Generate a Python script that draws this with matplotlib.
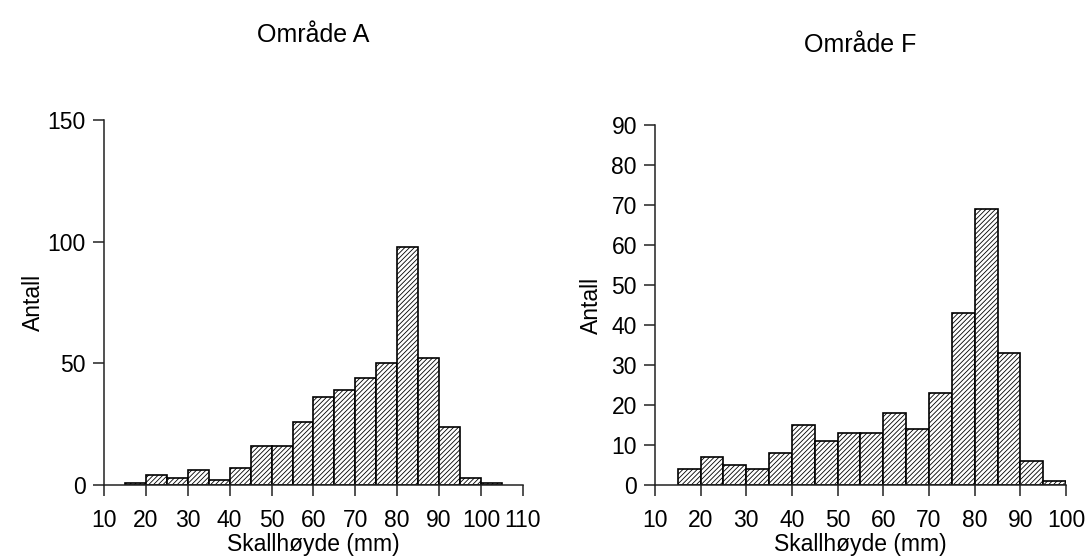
import matplotlib.pyplot as plt
import numpy as np

plt.rcParams["font.family"] = ["Liberation Sans", "DejaVu Sans"]
plt.rcParams["hatch.linewidth"] = 0.6

# bin edges start at 15 mm, width 5 mm
bins_a = [15, 20, 25, 30, 35, 40, 45, 50, 55, 60, 65, 70, 75, 80, 85, 90, 95, 100]
counts_a = [1, 4, 3, 6, 2, 7, 16, 16, 26, 36, 39, 44, 50, 98, 52, 24, 3, 1]

bins_f = [15, 20, 25, 30, 35, 40, 45, 50, 55, 60, 65, 70, 75, 80, 85, 90, 95]
counts_f = [4, 7, 5, 4, 8, 15, 11, 13, 13, 18, 14, 23, 43, 69, 33, 6, 1]

xticks_a = [10, 20, 30, 40, 50, 60, 70, 80, 90, 100, 110]
yticks_a = [0, 50, 100, 150]
xticks_f = [10, 20, 30, 40, 50, 60, 70, 80, 90, 100]
yticks_f = [0, 10, 20, 30, 40, 50, 60, 70, 80, 90]

fig = plt.figure(figsize=(10.88, 5.6), dpi=100)
ax1 = fig.add_axes([0.0956, 0.1339, 0.385, 0.6518])
ax2 = fig.add_axes([0.602, 0.1339, 0.3778, 0.643])


def draw(ax, bins, counts, xticks, yticks, ypad):
    ax.bar(bins, counts, width=5, align="edge", color="white",
           edgecolor="black", linewidth=1.2, hatch="///////", zorder=2)
    ax.set_xlim(xticks[0], xticks[-1])
    ax.set_ylim(yticks[0], yticks[-1])
    ax.set_xticks(xticks)
    ax.set_yticks(yticks)
    for s in ["top", "right"]:
        ax.spines[s].set_visible(False)
    for s in ["left", "bottom"]:
        ax.spines[s].set_linewidth(1.1)
        ax.spines[s].set_color("#222222")
    ax.tick_params(direction="out", length=8, width=1.1, labelsize=16.5,
                   color="#222222")
    ax.tick_params(axis="x", pad=9)
    ax.tick_params(axis="y", pad=5)
    ax.set_ylabel("Antall", fontsize=16.5, labelpad=ypad)
    ax.set_xlabel("Skallhøyde (mm)", fontsize=16.5, labelpad=1)


draw(ax1, bins_a, counts_a, xticks_a, yticks_a, 2)
draw(ax2, bins_f, counts_f, xticks_f, yticks_f, 6)

fig.text(0.288, 0.937, "Område A", ha="center", va="center", fontsize=18)
fig.text(0.791, 0.92, "Område F", ha="center", va="center", fontsize=18)

fig.savefig("out.png", dpi=100)
